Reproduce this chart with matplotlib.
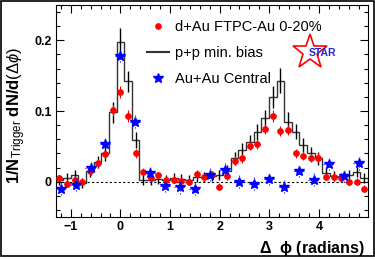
import numpy as np
import matplotlib
matplotlib.use('Agg')
import matplotlib.pyplot as plt
from matplotlib.lines import Line2D
from matplotlib.patches import Rectangle

plt.rcParams['font.family'] = ['Liberation Sans', 'DejaVu Sans']
plt.rcParams['mathtext.fontset'] = 'custom'
plt.rcParams['mathtext.rm'] = 'Liberation Sans'
plt.rcParams['mathtext.it'] = 'Liberation Sans:italic'
plt.rcParams['mathtext.bf'] = 'Liberation Sans:bold'

# d+Au FTPC-Au 0-20% (red) and p+p min. bias (black histogram) share the same bins
dphi = [-1.228, -1.075, -0.921, -0.768, -0.614, -0.461, -0.307, -0.154, 0.0,
        0.154, 0.307, 0.461, 0.614, 0.768, 0.921, 1.075, 1.228, 1.382, 1.535,
        1.689, 1.842, 1.996, 2.149, 2.303, 2.456, 2.610, 2.763, 2.917, 3.070,
        3.224, 3.377, 3.531, 3.684, 3.838, 3.991, 4.145, 4.298, 4.452, 4.605,
        4.759, 4.912]
dau = [0.005, -0.003, 0.003, 0.000, 0.015, 0.026, 0.039, 0.101, 0.127, 0.093,
       0.040, 0.014, 0.005, 0.009, 0.003, 0.003, 0.001, 0.000, 0.011, 0.006,
       0.010, -0.007, 0.008, 0.030, 0.033, 0.051, 0.053, 0.075, 0.093, 0.072,
       0.073, 0.040, 0.037, 0.034, 0.034, 0.007, 0.007, 0.005, 0.000, 0.000,
       -0.010]
dau_err = [0.005, 0.005, 0.005, 0.005, 0.006, 0.006, 0.006, 0.008, 0.009, 0.008,
           0.006, 0.005, 0.005, 0.005, 0.005, 0.005, 0.005, 0.005, 0.005, 0.005,
           0.005, 0.005, 0.005, 0.006, 0.006, 0.006, 0.006, 0.007, 0.008, 0.007,
           0.007, 0.006, 0.006, 0.006, 0.006, 0.005, 0.005, 0.005, 0.005, 0.005,
           0.005]
pp = [0.003, 0.005, 0.010, -0.002, 0.015, 0.028, 0.040, 0.098, 0.197, 0.142,
      0.059, 0.002, 0.003, 0.004, 0.002, 0.005, 0.004, 0.002, 0.006, 0.007,
      0.008, 0.009, 0.015, 0.033, 0.045, 0.056, 0.070, 0.090, 0.120, 0.143,
      0.085, 0.071, 0.052, 0.040, 0.033, 0.012, 0.008, 0.006, 0.010, 0.014,
      0.005]
pp_err = [0.007, 0.007, 0.007, 0.007, 0.008, 0.009, 0.010, 0.015, 0.020, 0.015,
          0.011, 0.007, 0.007, 0.007, 0.007, 0.007, 0.007, 0.007, 0.007, 0.007,
          0.007, 0.007, 0.008, 0.009, 0.010, 0.010, 0.011, 0.012, 0.016, 0.018,
          0.013, 0.011, 0.010, 0.009, 0.009, 0.008, 0.007, 0.007, 0.007, 0.007,
          0.007]
bin_width = 0.1535

# Au+Au central (blue stars)
auau_x = [-1.2, -0.9, -0.6, -0.3, 0.0, 0.3, 0.6, 0.9, 1.2, 1.5, 1.8, 2.1,
          2.4, 2.7, 3.0, 3.3, 3.6, 3.9, 4.2, 4.5, 4.8]
auau = [-0.010, -0.004, 0.019, 0.053, 0.178, 0.085, 0.012, -0.006, -0.008,
        -0.010, 0.010, 0.017, 0.000, -0.003, 0.004, -0.007, 0.015, 0.003,
        0.025, 0.008, 0.026]
auau_err = [0.009] * len(auau)

fig = plt.figure(figsize=(3.75, 2.6), dpi=100)
ax = fig.add_axes([0.149, 0.165, 0.831, 0.816])

x = np.array(dphi)
edges = np.append(x - bin_width / 2, x[-1] + bin_width / 2)
ax.stairs(pp, edges, color='#333333', lw=1.0, zorder=2)
ax.errorbar(dphi, pp, yerr=pp_err, fmt='none', ecolor='black', elinewidth=1.0,
            capsize=0, zorder=2)

ax.axhline(0, color='black', lw=0.8, ls=(0, (2, 2)), zorder=1)

ax.errorbar(dphi, dau, yerr=dau_err, xerr=0.05, fmt='o', color='red', ms=3.8,
            mec='red', elinewidth=0.8, capsize=0, zorder=3)

eb = ax.errorbar(auau_x, auau, yerr=auau_err, xerr=0.11, fmt='*', color='blue',
                 ms=7.5, mec='blue', elinewidth=0.8, capsize=0, zorder=4)
for col in eb[2]:
    col.set_linestyle(':')

ax.set_xlim(-1.3, 4.98)
ax.set_ylim(-0.05, 0.25)
ax.set_xticks([-1, 0, 1, 2, 3, 4])
ax.set_xticks(np.arange(-1.2, 5.0, 0.2), minor=True)
ax.set_yticks([0, 0.1, 0.2])
ax.set_yticklabels(['0', '0.1', '0.2'])
ax.set_yticks(np.arange(-0.04, 0.25, 0.02), minor=True)
ax.tick_params(which='both', direction='in', top=True, right=True,
               labelsize=9, pad=3, width=0.8)
ax.tick_params(which='major', length=6)
ax.tick_params(which='minor', length=3)
for lab in ax.get_xticklabels() + ax.get_yticklabels():
    lab.set_fontweight('bold')
for sp in ax.spines.values():
    sp.set_linewidth(0.8)

ax.set_ylabel(r'$\mathbf{1/N}_{\mathrm{Trigger}}\ \mathbf{dN/d}(\Delta\phi)$',
              fontsize=12, va='center')
ax.yaxis.set_label_coords(-0.125, 0.48)
ax.set_xlabel(r'$\mathbf{\Delta}\ \ \mathbf{\phi}$ (radians)', fontsize=11.5,
              fontweight='bold', ha='right', va='center')
ax.xaxis.set_label_coords(0.99, -0.15)

handles = [
    Line2D([], [], marker='o', color='red', ls='none', ms=3.8),
    Line2D([], [], color='#333333', lw=1.5),
    Line2D([], [], marker='*', color='blue', ls='none', ms=7.5),
]
labels = ['d+Au FTPC-Au 0-20%', 'p+p min. bias', 'Au+Au Central']
ax.legend(handles, labels, loc='upper left', bbox_to_anchor=(0.27, 0.965),
          frameon=False, fontsize=10.5, borderpad=0, labelspacing=0.85,
          handlelength=1.5, handletextpad=0.4)

# STAR logo
ax.plot([0.815], [0.778], marker='*', ms=26, mfc='none', mec='red', mew=1.2,
        transform=ax.transAxes)
ax.text(0.857, 0.772, 'STAR', color='#2424d8', fontsize=7.5, fontweight='bold',
        ha='center', va='center', transform=ax.transAxes)

fig.patches.append(Rectangle((0.003, 0.015), 0.993, 0.981, fill=False,
                             edgecolor='black', lw=1.2,
                             transform=fig.transFigure, figure=fig))

fig.savefig('out.png', dpi=100)
